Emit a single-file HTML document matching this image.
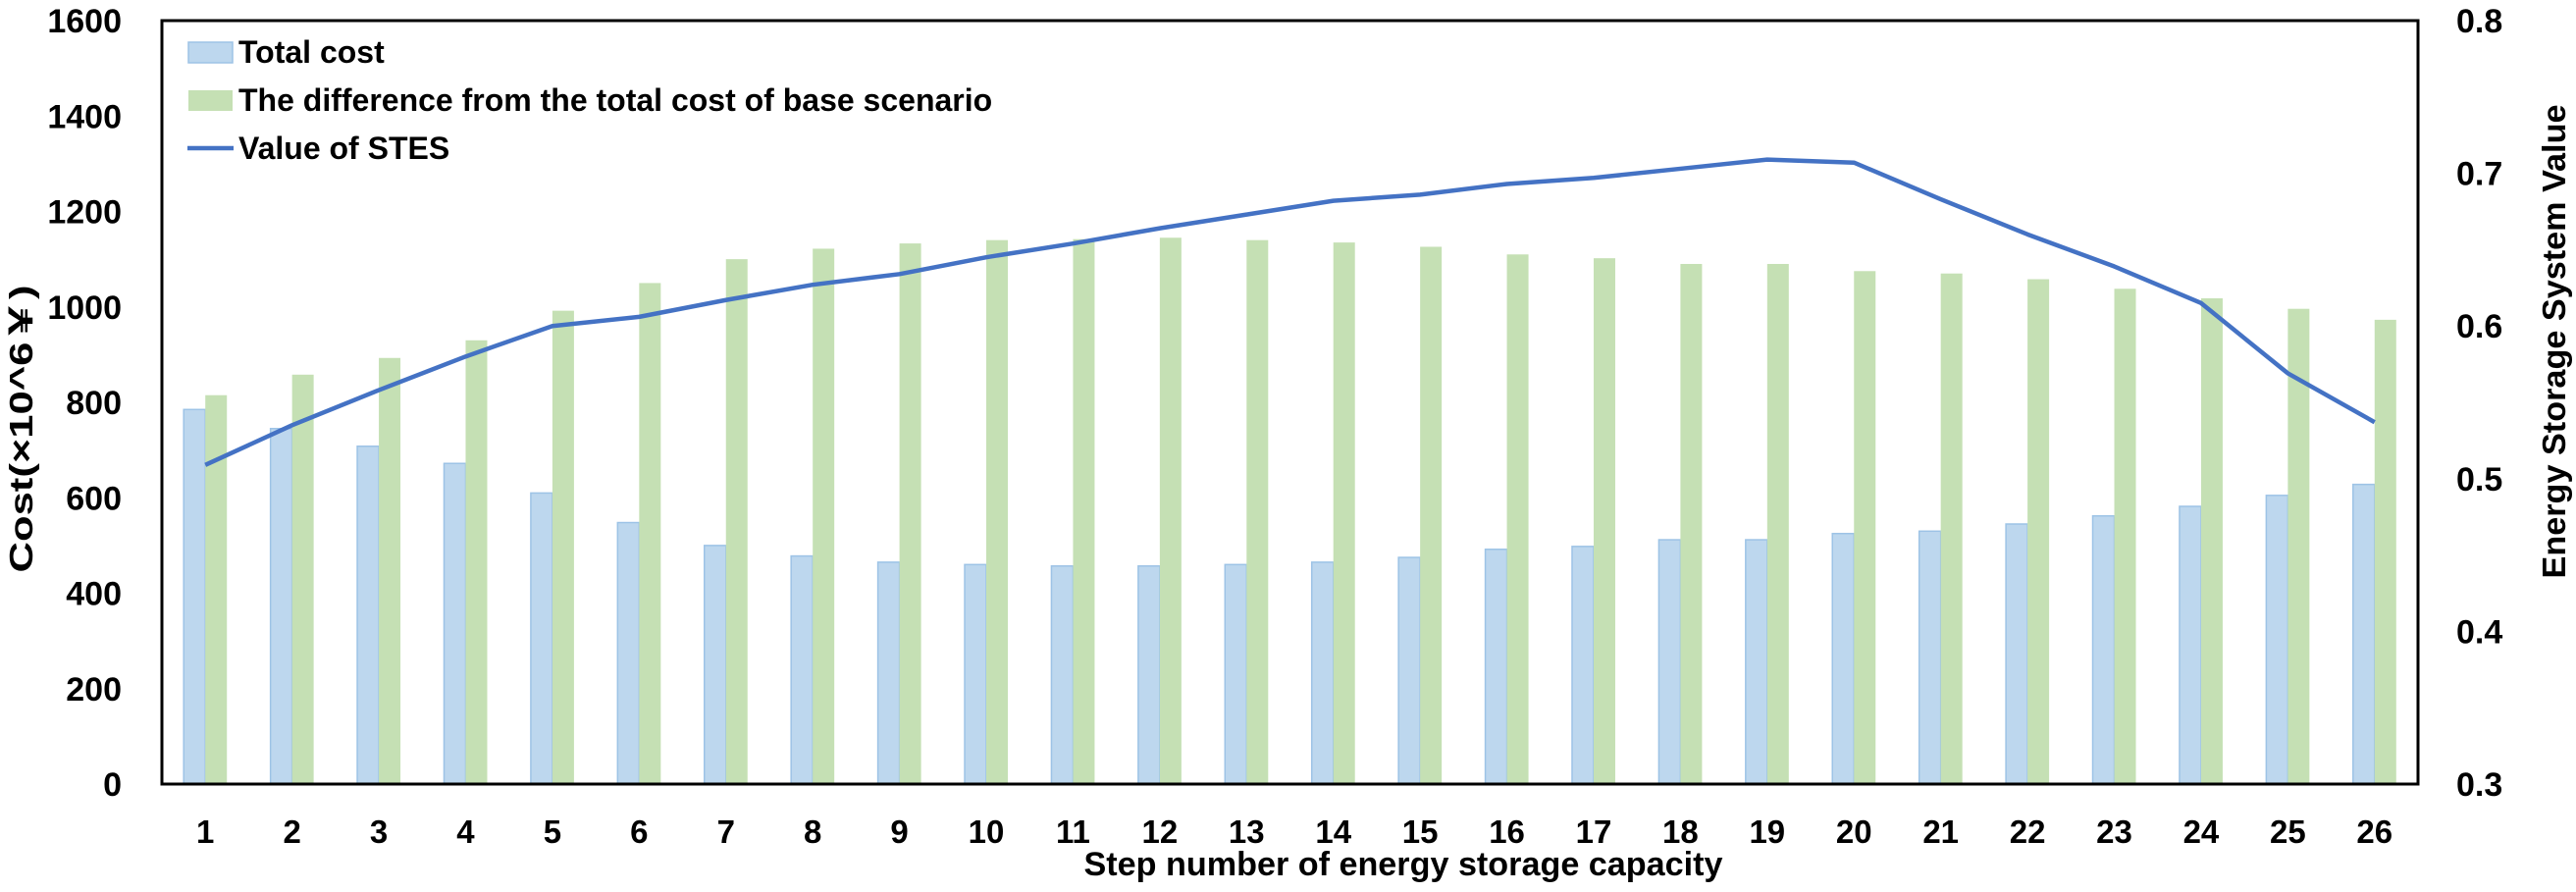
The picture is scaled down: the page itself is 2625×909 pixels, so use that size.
<!DOCTYPE html>
<html><head><meta charset="utf-8"><style>
html,body{margin:0;padding:0;background:#fff;}
svg{display:block;font-family:"Liberation Sans","Noto Sans CJK SC",sans-serif;font-weight:bold;}
</style></head><body>
<svg id="c" width="2625" height="909" viewBox="0 0 2625 909" xmlns="http://www.w3.org/2000/svg"></svg>
<script>
const svg=document.getElementById('c');
const L=165,R=2464,T=21,B=799;
const blue=[785,745,708,672,610,548,500,478,465,460,457,457,460,465,475,492,498,512,512,525,530,545,562,582,605,628];
const green=[815,858,893,930,992,1050,1100,1122,1133,1140,1142,1145,1140,1135,1126,1110,1102,1090,1090,1075,1070,1058,1038,1018,996,973];
const line=[0.509,0.535,0.558,0.58,0.6,0.606,0.617,0.627,0.634,0.645,0.654,0.664,0.673,0.682,0.686,0.693,0.697,0.703,0.709,0.707,0.683,0.66,0.639,0.615,0.569,0.537];
const cw=(R-L)/26;
const y1=v=>B-v/1600*(B-T);
const y2=v=>B-(v-0.3)/0.5*(B-T);
let s='';
for(let i=0;i<26;i++){
  const c=L+cw*(i+0.5);
  s+=`<rect x="${c-22}" y="${y1(blue[i])}" width="22" height="${B-y1(blue[i])}" fill="#BDD7EE" stroke="#9DC3E6" stroke-width="1.5"/>`;
  s+=`<rect x="${c}" y="${y1(green[i])}" width="22" height="${B-y1(green[i])}" fill="#C5E0B4"/>`;
  s+=`<text x="${c}" y="859" font-size="33" text-anchor="middle">${i+1}</text>`;
}
let p='';
for(let i=0;i<26;i++){p+=(i?'L':'M')+(L+cw*(i+0.5))+' '+y2(line[i]);}
s+=`<path d="${p}" fill="none" stroke="#4472C4" stroke-width="4.5" stroke-linejoin="round"/>`;
s+=`<rect x="${L}" y="${T}" width="${R-L}" height="${B-T}" fill="none" stroke="#000" stroke-width="3"/>`;
for(let k=0;k<=8;k++){
  const v=k*200;
  s+=`<text x="124" y="${y1(v)+12}" font-size="34" text-anchor="end">${v}</text>`;
}
for(let k=0;k<=5;k++){
  const v=0.3+k*0.1;
  s+=`<text x="2503" y="${y2(v)+12}" font-size="34">${v.toFixed(1)}</text>`;
}
s+=`<text x="1430" y="892" font-size="34" text-anchor="middle" textLength="651" lengthAdjust="spacingAndGlyphs">Step number of energy storage capacity</text>`;
s+=`<text transform="translate(33,437) rotate(-90)" font-size="33" text-anchor="middle" textLength="293" lengthAdjust="spacingAndGlyphs">Cost(×10^6￥)</text>`;
s+=`<text transform="translate(2614,348) rotate(-90)" font-size="33" text-anchor="middle" textLength="483" lengthAdjust="spacingAndGlyphs">Energy Storage System Value</text>`;
// legend
s+=`<rect x="192" y="43" width="45" height="21" fill="#BDD7EE" stroke="#9DC3E6" stroke-width="1.5"/>`;
s+=`<text x="243" y="64" font-size="32">Total cost</text>`;
s+=`<rect x="192" y="92" width="45" height="21" fill="#C5E0B4"/>`;
s+=`<text x="243" y="113" font-size="32">The difference from the total cost of base scenario</text>`;
s+=`<line x1="191" y1="151" x2="238" y2="151" stroke="#4472C4" stroke-width="4.5"/>`;
s+=`<text x="243" y="162" font-size="32">Value of STES</text>`;
svg.innerHTML=s;
</script>
</body></html>
